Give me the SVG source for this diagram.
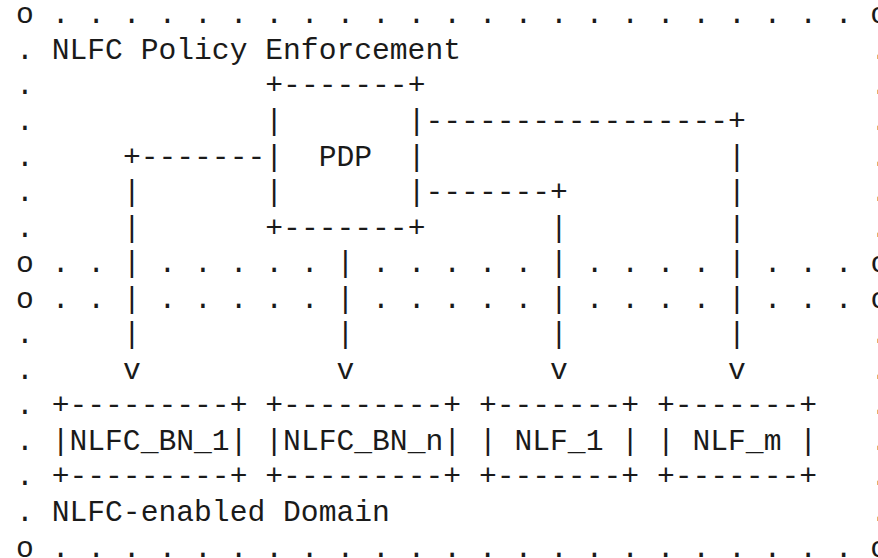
<svg xmlns="http://www.w3.org/2000/svg" width="878" height="558" viewBox="0 0 878 558">
<style>
text{font-family:"Liberation Mono","DejaVu Sans Mono",monospace;font-size:29.66px;fill:#1a1a1a;white-space:pre}
</style>
<rect width="878" height="558" fill="#fff"/>
<g id="frame-policy" xml:space="preserve">
<text x="16.1" y="23.3">o . . . . . . . . . . . . . . . . . . . . . . . o</text>
<text x="16.1" y="58.85">. NLFC Policy Enforcement</text>
<text x="870.5" y="58.85">.</text>
<text x="16.1" y="94.4">.</text><text x="870.5" y="94.4">.</text>
<text x="16.1" y="129.95">.</text><text x="870.5" y="129.95">.</text>
<text x="16.1" y="165.5">.</text><text x="870.5" y="165.5">.</text>
<text x="16.1" y="201.05">.</text><text x="870.5" y="201.05">.</text>
<text x="16.1" y="236.6">.</text><text x="870.5" y="236.6">.</text>
<text x="16.1" y="272.15">o . .</text>
<text x="158.5" y="272.15">. . . . .</text>
<text x="372.1" y="272.15">. . . . .</text>
<text x="585.7" y="272.15">. . . .</text>
<text x="763.7" y="272.15">. . . o</text>
</g>
<g id="frame-domain" xml:space="preserve">
<text x="16.1" y="307.7">o . .</text>
<text x="158.5" y="307.7">. . . . .</text>
<text x="372.1" y="307.7">. . . . .</text>
<text x="585.7" y="307.7">. . . .</text>
<text x="763.7" y="307.7">. . . o</text>
<text x="16.1" y="343.25">.</text><text x="870.5" y="343.25">.</text>
<text x="16.1" y="378.8">.</text><text x="870.5" y="378.8">.</text>
<text x="16.1" y="414.35">.</text><text x="870.5" y="414.35">.</text>
<text x="16.1" y="449.9">.</text><text x="870.5" y="449.9">.</text>
<text x="16.1" y="485.45">.</text><text x="870.5" y="485.45">.</text>
<text x="16.1" y="521">. NLFC-enabled Domain</text>
<text x="870.5" y="521">.</text>
<text x="16.1" y="556.55">o . . . . . . . . . . . . . . . . . . . . . . . o</text>
</g>
<g id="pdp" xml:space="preserve">
<text x="265.3" y="94.4">+-------+</text>
<text x="265.3" y="129.95">|       |</text>
<text x="265.3" y="165.5">|  PDP  |</text>
<text x="265.3" y="201.05">|       |</text>
<text x="265.3" y="236.6">+-------+</text>
</g>
<g id="nlfc-bn-1" xml:space="preserve">
<text x="51.7" y="414.35">+---------+</text>
<text x="51.7" y="449.9">|NLFC_BN_1|</text>
<text x="51.7" y="485.45">+---------+</text>
</g>
<g id="nlfc-bn-n" xml:space="preserve">
<text x="265.3" y="414.35">+---------+</text>
<text x="265.3" y="449.9">|NLFC_BN_n|</text>
<text x="265.3" y="485.45">+---------+</text>
</g>
<g id="nlf-1" xml:space="preserve">
<text x="478.9" y="414.35">+-------+</text>
<text x="478.9" y="449.9">| NLF_1 |</text>
<text x="478.9" y="485.45">+-------+</text>
</g>
<g id="nlf-m" xml:space="preserve">
<text x="656.9" y="414.35">+-------+</text>
<text x="656.9" y="449.9">| NLF_m |</text>
<text x="656.9" y="485.45">+-------+</text>
</g>
<g id="connectors" xml:space="preserve">
<g id="pdp-to-bn-1">
<text x="122.9" y="165.5">+-------</text>
<text x="122.9" y="201.05">|</text>
<text x="122.9" y="236.6">|</text>
<text x="122.9" y="272.15">|</text>
<text x="122.9" y="307.7">|</text>
<text x="122.9" y="343.25">|</text>
<text x="122.9" y="378.8">v</text>
</g>
<g id="pdp-to-bn-n">
<text x="336.5" y="272.15">|</text>
<text x="336.5" y="307.7">|</text>
<text x="336.5" y="343.25">|</text>
<text x="336.5" y="378.8">v</text>
</g>
<g id="pdp-to-nlf-1">
<text x="425.5" y="201.05">-------+</text>
<text x="550.1" y="236.6">|</text>
<text x="550.1" y="272.15">|</text>
<text x="550.1" y="307.7">|</text>
<text x="550.1" y="343.25">|</text>
<text x="550.1" y="378.8">v</text>
</g>
<g id="pdp-to-nlf-m">
<text x="425.5" y="129.95">-----------------+</text>
<text x="728.1" y="165.5">|</text>
<text x="728.1" y="201.05">|</text>
<text x="728.1" y="236.6">|</text>
<text x="728.1" y="272.15">|</text>
<text x="728.1" y="307.7">|</text>
<text x="728.1" y="343.25">|</text>
<text x="728.1" y="378.8">v</text>
</g>
</g>
</svg>
